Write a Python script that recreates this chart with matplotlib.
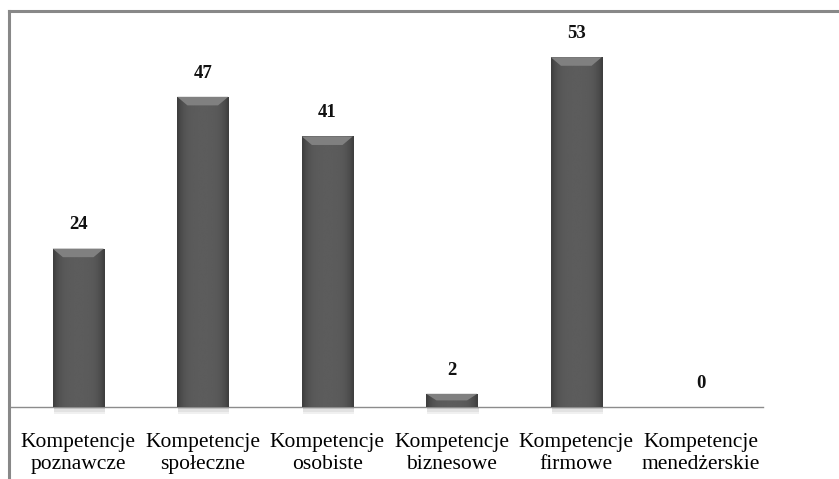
import numpy as np
import matplotlib.pyplot as plt
from matplotlib.patches import Polygon
from matplotlib.lines import Line2D

categories = ["Kompetencje\npoznawcze", "Kompetencje\nspołeczne", "Kompetencje\nosobiste",
              "Kompetencje\nbiznesowe", "Kompetencje\nfirmowe", "Kompetencje\nmenedżerskie"]
values = [24, 47, 41, 2, 53, 0]

fig = plt.figure(figsize=(8.39, 4.79), dpi=100)
ax = fig.add_axes([9 / 839, 72 / 479, (763 - 9) / 839, (407 - 11) / 479])

x = np.arange(len(categories))
bars = ax.bar(x, values, width=0.41, color="#474747", edgecolor="#333333",
              linewidth=0.6, zorder=3)

# horizontal shading across each bar plus a lighter bevel on top
grad = np.linspace(0, 1, 64)
shade = 0.36 - 0.12 * (2 * grad - 1) ** 4
shade = np.vstack([shade, shade])
for b, v in zip(bars, values):
    if v <= 0:
        continue
    x0, w, h = b.get_x(), b.get_width(), b.get_height()
    im = ax.imshow(shade, cmap="gray", vmin=0, vmax=1, aspect="auto",
                   extent=[x0, x0 + w, 0, h], zorder=3.5, interpolation="bicubic")
    im.set_clip_path(b)
    cap = min(1.3, h * 0.5)
    inset = w * 0.2
    ax.add_patch(Polygon([[x0, h], [x0 + w, h], [x0 + w - inset, h - cap], [x0 + inset, h - cap]],
                         closed=True, facecolor="#808080", edgecolor="none", zorder=4))
    # soft shadow under the bar
    for k, c in enumerate(["#cfcfcf", "#e2e2e2", "#f0f0f0"]):
        ax.add_patch(plt.Rectangle((x0 + 0.01, -0.35 * (k + 1)), w, 0.35, facecolor=c,
                                   edgecolor="none", zorder=2, clip_on=False))

for xi, v in zip(x, values):
    ax.text(xi, v + 3.6, str(v), ha="center", va="center", fontsize=13.5,
            family="Liberation Serif", fontweight="bold", color="#111111")

ax.set_xlim(-0.556, 5.5)
ax.set_ylim(0, 60)
ax.set_yticks([])
ax.set_xticks(x)
ax.set_xticklabels(categories, family="Liberation Serif", fontsize=15.5, linespacing=1.2)
ax.tick_params(axis="x", length=0, pad=19)
for side in ["top", "right", "left"]:
    ax.spines[side].set_visible(False)
ax.spines["bottom"].set_color("#8c8c8c")
ax.spines["bottom"].set_linewidth(1.0)

# outer frame lines (top and left)
fig.add_artist(Line2D([8.5 / 839, 1.0], [1 - 11 / 479, 1 - 11 / 479], transform=fig.transFigure,
                      color="#888888", linewidth=2.2))
fig.add_artist(Line2D([8.5 / 839, 8.5 / 839], [0, 1 - 11 / 479], transform=fig.transFigure,
                      color="#888888", linewidth=2.2))

fig.savefig("out.png", dpi=100, facecolor="white")
